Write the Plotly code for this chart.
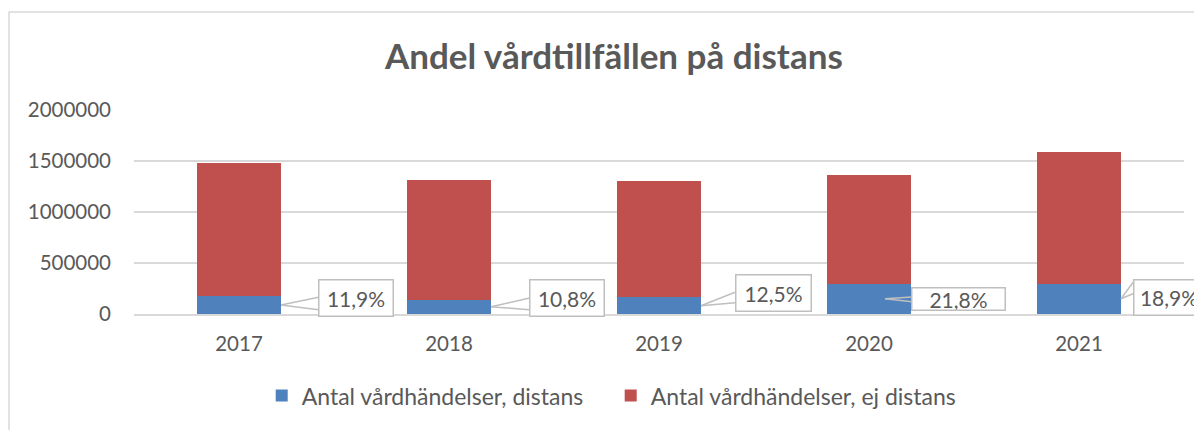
import plotly.graph_objects as go

years = ["2017", "2018", "2019", "2020", "2021"]
distans = [176000, 142000, 163000, 297000, 298000]
ej_distans = [1304000, 1172000, 1141000, 1066000, 1287000]
andel_labels = ["11,9%", "10,8%", "12,5%", "21,8%", "18,9%"]

BLUE = "#4F81BD"
RED = "#C0504D"
GREY_TEXT = "#595959"
GRID = "#D9D9D9"
CALLOUT = "#BFBFBF"
FONT = "Lato"

fig = go.Figure()
fig.add_trace(go.Bar(
    x=years, y=distans, name="Antal vårdhändelser, distans",
    marker=dict(color=BLUE, line=dict(width=0)), width=0.4,
))
fig.add_trace(go.Bar(
    x=years, y=ej_distans, name="Antal vårdhändelser, ej distans",
    marker=dict(color=RED, line=dict(width=0)), width=0.4,
))

# callout placement (layout only): tip x offset from category centre,
# box centre offset from tip (px), outer box size (px), wedge end offsets (px)
callouts = [
    (0.2, 75, -7, 76, 38, -8, 5),
    (0.2, 76, -9, 76, 38, -9, 3),
    (0.2, 72, -13, 77, 38, -14, -3),
    (0.076, 74, 0, 95, 24, -2, 3),
    (0.2, 48, -1, 72, 37, -19, -6),
]
for i, (lab, c) in enumerate(zip(andel_labels, callouts)):
    tip_dx, bx, by, bw, bh, w1, w2 = c
    tip_x = i + tip_dx
    tip_y = distans[i] / 2
    # wedge of the callout: two thin lines from the tip to the box edge
    for wy in (w1, w2):
        fig.add_annotation(
            x=tip_x, y=tip_y, xref="x", yref="y", text="",
            showarrow=True, arrowhead=0, arrowwidth=1.5, arrowcolor=CALLOUT,
            ax=bx - bw / 2 + 2, ay=wy, standoff=0, startstandoff=0,
        )
    fig.add_annotation(
        x=tip_x, y=tip_y, xref="x", yref="y",
        text=lab, showarrow=False, xshift=bx, yshift=-by,
        width=bw - 3, height=bh - 3, borderpad=0,
        bgcolor="white", bordercolor=CALLOUT, borderwidth=1.5,
        font=dict(family=FONT, size=21, color=GREY_TEXT),
    )

# outer chart frame (Excel chart area border)
fig.add_shape(
    type="rect", xref="paper", yref="paper",
    x0=-0.119, x1=1.2, y0=-0.8, y1=1.48,
    line=dict(color=GRID, width=1.5), fillcolor="rgba(0,0,0,0)", layer="below",
)

fig.update_layout(
    barmode="stack",
    width=1194, height=422,
    margin=dict(l=126, r=18, t=102, b=116, autoexpand=False),
    paper_bgcolor="white", plot_bgcolor="white",
    font=dict(family=FONT, size=20.5, color=GREY_TEXT),
    title=dict(
        text="<b>Andel vårdtillfällen på distans</b>",
        x=0.457, xref="paper", xanchor="center",
        y=1 - 49 / 422, yanchor="middle",
        font=dict(family=FONT, size=35, color=GREY_TEXT),
    ),
    xaxis=dict(
        range=[-0.5, 4.5], autorange=False,
        showgrid=False, showline=True, linecolor=GRID, linewidth=1.5,
        ticks="", ticklabelstandoff=11, tickfont=dict(size=20.5, color=GREY_TEXT),
    ),
    yaxis=dict(
        range=[0, 2000000], autorange=False, dtick=500000, tickformat="d",
        showgrid=True, gridcolor=GRID, gridwidth=1.5, zeroline=False,
        ticks="", ticklabelstandoff=22, tickfont=dict(size=20.5, color=GREY_TEXT),
    ),
    legend=dict(
        orientation="h", x=0.454, xanchor="center", y=-0.40, yanchor="middle",
        font=dict(size=23, color=GREY_TEXT), entrywidth=304, entrywidthmode="pixels",
        traceorder="normal",
    ),
    showlegend=True,
)

fig.write_html("out.html")
